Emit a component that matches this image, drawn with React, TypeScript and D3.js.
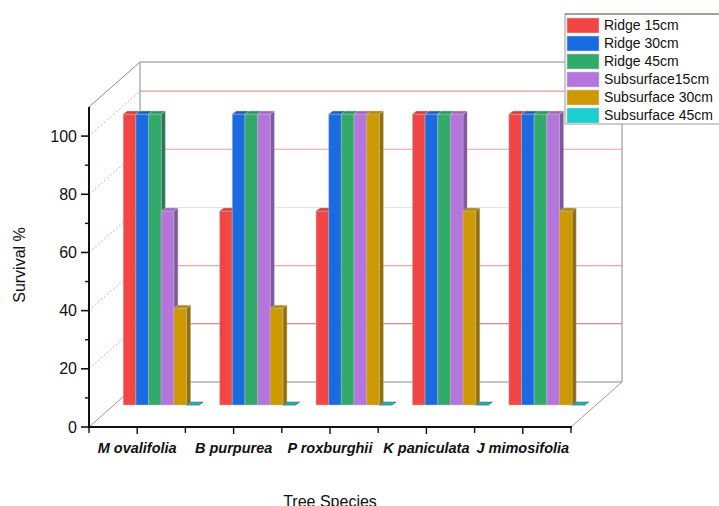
import React from "react";
import * as d3 from "d3";

const categories = ["M ovalifolia", "B purpurea", "P roxburghii", "K paniculata", "J mimosifolia"];
const seriesNames = ["Ridge 15cm", "Ridge 30cm", "Ridge 45cm", "Subsurface15cm", "Subsurface 30cm", "Subsurface 45cm"];
const ridge15 = [100, 66.7, 66.7, 100, 100];
const ridge30 = [100, 100, 100, 100, 100];
const ridge45 = [100, 100, 100, 100, 100];
const sub15 = [66.7, 100, 100, 100, 100];
const sub30 = [33.3, 33.3, 100, 66.7, 66.7];
const sub45 = [0, 0, 0, 0, 0];
const seriesValues = [ridge15, ridge30, ridge45, sub15, sub30, sub45];
const seriesColors = ["#f44545", "#1a6be0", "#30ab6b", "#b476dc", "#cc9900", "#1ccfcf"];
const yTicks = [0, 20, 40, 60, 80, 100];

const W = 719;
const H = 506;
const FONT = "Arial, 'Liberation Sans', sans-serif";

// oblique projection offsets
const WALL_DX = 51;
const WALL_DY = -45;
const BAR_DX = 24;
const BAR_DY = -22;
const DEPTH_DX = 4;
const DEPTH_DY = -3;

export default function App() {
  const x = d3.scaleBand<string>().domain(categories).range([89, 571]).padding(0);
  const sub = d3
    .scaleBand<string>()
    .domain(seriesNames)
    .range([0, x.bandwidth()])
    .paddingInner(0)
    .paddingOuter(0.81);
  const y = d3.scaleLinear().domain([0, 110]).range([427, 107]);
  const [x0, x1] = x.range();
  const y0 = y(0);
  const yTop = y(110);

  const gridColor: Record<number, string> = {
    20: "#d86a6a",
    40: "#f2a4a4",
    60: "#e4e4e4",
    80: "#eba0a0",
    100: "#e99a9a",
  };

  const minorY = d3.range(10, 110, 20);
  const minorX = d3.range(0, categories.length + 1).map((i) => x0 + i * x.step());

  const bars: React.ReactNode[] = [];
  categories.forEach((c, ci) => {
    seriesNames.forEach((s, si) => {
      const v = seriesValues[si][ci];
      const bx = (x(c) as number) + BAR_DX + (sub(s) as number);
      const bw = sub.bandwidth();
      const base = y(0) + BAR_DY;
      const top = y(v) + BAR_DY;
      const col = d3.color(seriesColors[si])!;
      const topCol = col.darker(0.35).formatHex();
      const sideCol = col.darker(0.9).formatHex();
      const front = `M${bx},${top}L${bx + bw},${top}L${bx + bw},${base}L${bx},${base}Z`;
      const side = `M${bx + bw},${top}L${bx + bw + DEPTH_DX},${top + DEPTH_DY}L${bx + bw + DEPTH_DX},${base + DEPTH_DY}L${bx + bw},${base}Z`;
      const cap = `M${bx},${top}L${bx + DEPTH_DX},${top + DEPTH_DY}L${bx + bw + DEPTH_DX},${top + DEPTH_DY}L${bx + bw},${top}Z`;
      bars.push(
        <g key={`${ci}-${si}`}>
          <path d={side} fill={sideCol} stroke="#a0a0a0" strokeWidth={0.4} />
          <path d={front} fill={col.formatHex()} stroke="#bdbdbd" strokeWidth={0.5} />
          <path d={cap} fill={topCol} stroke={v === 0 ? "#555" : "#c0c0c0"} strokeWidth={0.5} />
        </g>
      );
    });
  });

  return (
    <svg
      width={W}
      height={H}
      style={{ position: "absolute", left: 0, top: 0, background: "#fff" }}
      fontFamily={FONT}
    >
      <rect width={W} height={H} fill="#fff" />

      {/* side wall and back wall grid lines */}
      {yTicks
        .filter((t) => t > 0)
        .map((t) => (
          <g key={`g${t}`}>
            <line
              x1={x0}
              y1={y(t)}
              x2={x0 + WALL_DX}
              y2={y(t) + WALL_DY}
              stroke="#ec8c8c"
              strokeWidth={0.8}
              strokeDasharray="2,2"
            />
            <line
              x1={x0 + WALL_DX}
              y1={y(t) + WALL_DY}
              x2={x1 + WALL_DX}
              y2={y(t) + WALL_DY}
              stroke={gridColor[t]}
              strokeWidth={1.1}
            />
          </g>
        ))}

      {/* box frame */}
      <line x1={x0} y1={yTop} x2={x0 + WALL_DX} y2={yTop + WALL_DY} stroke="#888" strokeWidth={1} />
      <line x1={x0 + WALL_DX} y1={yTop + WALL_DY} x2={x1 + WALL_DX} y2={yTop + WALL_DY} stroke="#8a8a8a" strokeWidth={1} />
      <line x1={x0 + WALL_DX} y1={yTop + WALL_DY} x2={x0 + WALL_DX} y2={y0 + WALL_DY} stroke="#8a8a8a" strokeWidth={1} />
      <line x1={x1 + WALL_DX} y1={yTop + WALL_DY} x2={x1 + WALL_DX} y2={y0 + WALL_DY} stroke="#8a8a8a" strokeWidth={1} />
      <line x1={x0 + WALL_DX} y1={y0 + WALL_DY} x2={x1 + WALL_DX} y2={y0 + WALL_DY} stroke="#8a8a8a" strokeWidth={1} />
      <line x1={x0} y1={y0} x2={x0 + WALL_DX} y2={y0 + WALL_DY} stroke="#a07070" strokeWidth={0.8} />
      <line x1={x1} y1={y0} x2={x1 + WALL_DX} y2={y0 + WALL_DY} stroke="#a07070" strokeWidth={0.8} />

      {bars}

      {/* y axis */}
      <line x1={x0} y1={yTop} x2={x0} y2={y0 + 1} stroke="#111" strokeWidth={2} />
      {yTicks.map((t) => (
        <g key={`yt${t}`}>
          <line x1={x0 - 8} y1={y(t)} x2={x0} y2={y(t)} stroke="#111" strokeWidth={1.6} />
          <text x={x0 - 12} y={y(t)} dy="0.35em" textAnchor="end" fontSize={16} fill="#111">
            {t}
          </text>
        </g>
      ))}
      {minorY.map((t) => (
        <line key={`ym${t}`} x1={x0 - 4} y1={y(t)} x2={x0} y2={y(t)} stroke="#111" strokeWidth={1.4} />
      ))}

      {/* x axis */}
      <line x1={x0 - 1} y1={y0} x2={x1 + 1} y2={y0} stroke="#111" strokeWidth={2} />
      {categories.map((c) => {
        const cx = (x(c) as number) + x.bandwidth() / 2;
        return (
          <g key={`xt${c}`}>
            <line x1={cx} y1={y0} x2={cx} y2={y0 + 7} stroke="#111" strokeWidth={1.4} />
            <text x={cx} y={453} textAnchor="middle" fontSize={14.5} fontWeight="bold" fontStyle="italic" fill="#111">
              {c}
            </text>
          </g>
        );
      })}
      {minorX.map((mx, i) => (
        <line key={`xm${i}`} x1={mx} y1={y0} x2={mx} y2={y0 + 6} stroke="#111" strokeWidth={1.4} />
      ))}

      {/* axis titles */}
      <text x={330} y={507} textAnchor="middle" fontSize={16} fill="#111">
        Tree Species
      </text>
      <text transform="translate(25,265) rotate(-90)" textAnchor="middle" fontSize={16} fill="#111">
        Survival %
      </text>

      {/* legend */}
      <g>
        <rect x={565} y={14} width={160} height={110} fill="#fff" stroke="#999" strokeWidth={1} />
        <line x1={565} y1={14} x2={W} y2={14} stroke="#8a6e60" strokeWidth={1} />
        {seriesNames.map((s, i) => {
          const ry = 18 + i * 18;
          return (
            <g key={`lg${s}`}>
              <rect x={567} y={ry} width={32} height={15} fill={seriesColors[i]} stroke="#c8c8c8" strokeWidth={0.6} />
              <text x={604} y={ry + 7.5} dy="0.35em" fontSize={14} fill="#111">
                {s}
              </text>
            </g>
          );
        })}
      </g>
    </svg>
  );
}
